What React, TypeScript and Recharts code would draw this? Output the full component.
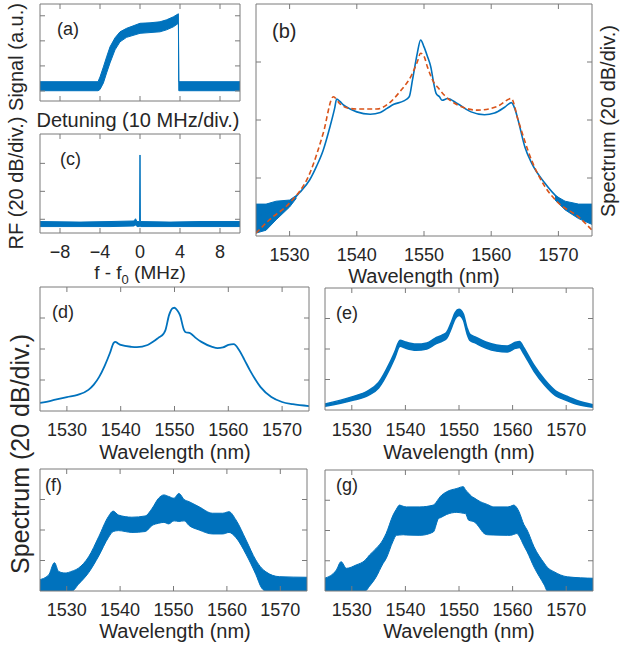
import React from 'react';
import { ComposedChart, Line, Area, XAxis, YAxis } from 'recharts';

const W = 621;
const H = 645;
const BLUE = '#0072BD';
const ORANGE = '#D95319';
const AXIS = '#7a7a7a';
const TEXT = '#262626';
const FONT = '"Liberation Sans", Arial, Helvetica, sans-serif';

// ---------- (a) Signal vs detuning (arbitrary units, 10 MHz/div) ----------
const aX = [0, 2.9, 3.0, 3.17, 3.33, 3.5, 3.75, 4.0, 4.33, 5.0, 5.5, 6.0, 6.33, 6.67, 6.92, 6.94, 10];
const aLow = [0.01, 0.01, 0.06, 0.32, 0.72, 1.12, 1.64, 1.96, 2.14, 2.3, 2.33, 2.36, 2.44, 2.56, 2.7, 0.01, 0.01];
const aHigh = [0.37, 0.37, 0.56, 0.96, 1.36, 1.76, 2.12, 2.36, 2.5, 2.7, 2.72, 2.76, 2.84, 2.96, 3.08, 0.37, 0.37];
const aTicksX = [1, 3, 5, 7, 9];
const aTicksY = [0, 1, 2, 3];

// ---------- (c) RF spectrum ----------
const cX = [-10, -6, -3, -0.6, -0.45, -0.3, -0.04, 0, 0.04, 3, 6, 10];
const cLow = [-0.26, -0.26, -0.26, -0.24, -0.2, -0.26, -0.26, -0.26, -0.26, -0.26, -0.26, -0.26];
const cHigh = [-0.08, -0.1, -0.08, -0.06, 0.02, -0.08, -0.08, 2.3, -0.08, -0.1, -0.08, -0.08];
const cTicksX = [-8, -4, 0, 4, 8];
const cTicksY = [0, 1, 2];

// ---------- wavelength axes ----------
const wlTicks = [1530, 1540, 1550, 1560, 1570];
const divTicks = [1, 2, 3];

// ---------- (b) measured (blue) and simulated (orange dashed) ----------
const bX = [1525, 1527, 1529, 1530, 1531.5, 1533, 1534, 1535, 1536, 1536.7, 1537, 1537.5, 1538, 1539, 1540, 1542, 1543.5, 1544.5, 1545.5, 1547, 1547.8, 1548.3, 1549, 1549.5, 1550, 1550.5, 1551, 1551.5, 1551.8, 1552.3, 1552.7, 1553.5, 1555, 1557, 1559, 1560.5, 1562, 1563, 1563.5, 1564, 1565, 1566, 1568, 1570, 1572, 1575];
const bY = [0.33, 0.42, 0.52, 0.57, 0.75, 0.97, 1.2, 1.48, 1.88, 2.2, 2.36, 2.32, 2.26, 2.19, 2.14, 2.1, 2.13, 2.2, 2.27, 2.33, 2.4, 2.7, 3.15, 3.38, 3.26, 3.1, 2.92, 2.6, 2.46, 2.4, 2.34, 2.37, 2.28, 2.14, 2.09, 2.12, 2.22, 2.3, 2.2, 2.0, 1.54, 1.26, 0.91, 0.65, 0.5, 0.36];
const bNoiseLX = [1525, 1526.5, 1528, 1530, 1531];
const bNoiseLLow = [0.05, 0.1, 0.28, 0.5, 0.65];
const bNoiseLHigh = [0.55, 0.55, 0.6, 0.62, 0.7];
const bNoiseRX = [1569.5, 1571, 1573, 1575];
const bNoiseRLow = [0.62, 0.45, 0.3, 0.2];
const bNoiseRHigh = [0.7, 0.6, 0.55, 0.55];
const bSimX = [1525, 1527, 1530, 1533, 1535, 1536.5, 1537.5, 1538.5, 1540, 1543, 1545, 1546.5, 1547, 1548, 1549, 1549.5, 1550, 1550.5, 1551.5, 1552, 1553, 1555, 1558, 1561, 1563, 1564, 1566, 1568, 1570, 1573, 1575];
const bSimY = [0.05, 0.28, 0.57, 1.08, 1.77, 2.4, 2.28, 2.21, 2.19, 2.19, 2.31, 2.5, 2.57, 2.74, 3.0, 3.15, 3.1, 2.92, 2.64, 2.57, 2.43, 2.26, 2.17, 2.24, 2.37, 2.0, 1.31, 0.85, 0.57, 0.33, 0.1];

// ---------- (d) ----------
const dX = [1525, 1527, 1530, 1532, 1534, 1535, 1536, 1537, 1538, 1538.7, 1539, 1539.5, 1540, 1542, 1543, 1545, 1546, 1547, 1548, 1548.3, 1549, 1549.7, 1550, 1550.5, 1551, 1551.8, 1552, 1553, 1554, 1555, 1557, 1558, 1559, 1560, 1561, 1562, 1563, 1564, 1566, 1568, 1570, 1572, 1575];
const dY = [0.26, 0.33, 0.45, 0.52, 0.68, 0.85, 1.1, 1.45, 1.87, 2.2, 2.23, 2.18, 2.13, 2.07, 2.06, 2.13, 2.23, 2.36, 2.5, 2.6, 3.1, 3.32, 3.33, 3.25, 3.1, 2.6, 2.55, 2.5, 2.35, 2.23, 2.07, 2.03, 2.05, 2.13, 2.16, 1.97, 1.65, 1.32, 0.77, 0.45, 0.29, 0.22, 0.16];

// ---------- (e) ----------
const eX = [1525, 1530, 1533, 1535, 1537, 1538, 1539, 1540, 1542, 1544, 1545.5, 1547, 1547.7, 1548.5, 1549.3, 1550, 1550.8, 1551.5, 1552, 1553, 1555, 1557, 1559, 1560.5, 1561.3, 1562, 1564, 1566, 1568, 1570, 1572, 1575];
const eLow = [0.12, 0.31, 0.47, 0.72, 1.32, 1.7, 2.09, 2.03, 1.96, 2.0, 2.15, 2.27, 2.35, 2.65, 3.0, 3.1, 2.95, 2.5, 2.29, 2.2, 2.03, 1.93, 1.9, 2.02, 2.05, 1.87, 1.27, 0.81, 0.47, 0.32, 0.19, 0.09];
const eHigh = [0.2, 0.43, 0.63, 0.9, 1.52, 1.9, 2.29, 2.23, 2.16, 2.2, 2.35, 2.47, 2.55, 2.85, 3.2, 3.3, 3.15, 2.7, 2.49, 2.4, 2.23, 2.13, 2.1, 2.22, 2.25, 2.07, 1.47, 0.99, 0.63, 0.46, 0.31, 0.17];

// ---------- (f) ----------
const fX = [1524.7, 1526.6, 1527.7, 1528.5, 1529.7, 1531, 1532.2, 1534.1, 1536, 1537.8, 1538.7, 1539.7, 1542.2, 1544.7, 1546, 1547.2, 1548.2, 1549.1, 1550.1, 1551, 1552, 1552.9, 1554.8, 1557.3, 1559.2, 1560.4, 1561.7, 1563.6, 1565.4, 1566.5, 1567.3, 1569.8, 1575];
const fLow = [0, 0, 0, 0, 0, 0, 0.22, 0.6, 1.15, 1.75, 1.95, 1.98, 1.92, 1.95, 2.15, 2.22, 2.25, 2.2, 2.3, 2.28, 2.3, 2.15, 2.0, 1.87, 1.87, 1.92, 1.75, 1.2, 0.55, 0.1, 0, 0, 0];
const fHigh = [0.36, 0.52, 0.93, 0.64, 0.59, 0.65, 0.75, 1.12, 1.78, 2.44, 2.62, 2.49, 2.42, 2.46, 2.71, 3.04, 3.15, 3.1, 3.04, 3.2, 3.0, 2.93, 2.76, 2.55, 2.55, 2.6, 2.33, 1.67, 1.02, 0.75, 0.63, 0.47, 0.45];

// ---------- (g) ----------
const gX = [1524.9, 1527.1, 1528, 1529, 1530.8, 1532.5, 1533.3, 1534.5, 1535.8, 1536.4, 1537.7, 1538.3, 1538.9, 1539.6, 1540.2, 1542.7, 1545.2, 1546.2, 1546.5, 1547.7, 1549.6, 1550.8, 1551.2, 1551.8, 1552.4, 1552.8, 1554, 1554.4, 1555.3, 1556.5, 1559, 1559.6, 1560.2, 1560.8, 1561.2, 1562.1, 1562.7, 1564, 1565.9, 1566.5, 1567.7, 1570.2, 1575.2];
const gLow = [0, 0, 0, 0, 0, 0, 0.16, 0.45, 0.9, 1.07, 1.65, 1.84, 1.85, 1.86, 1.85, 1.84, 1.95, 2.4, 2.42, 2.53, 2.6, 2.57, 2.56, 2.34, 2.31, 2.29, 2.05, 1.95, 1.86, 1.85, 1.84, 1.84, 1.87, 1.9, 1.82, 1.5, 1.3, 0.79, 0.2, 0, 0, 0, 0];
const gHigh = [0.42, 0.69, 0.97, 0.75, 0.86, 1.02, 1.19, 1.4, 1.69, 1.9, 2.51, 2.7, 2.84, 2.8, 2.78, 2.78, 2.84, 3.05, 3.12, 3.28, 3.39, 3.45, 3.35, 3.23, 3.12, 3.08, 2.95, 2.92, 2.86, 2.78, 2.78, 2.8, 2.84, 2.75, 2.62, 2.2, 2.02, 1.46, 0.92, 0.78, 0.64, 0.47, 0.42];

const line = (xs: number[], ys: number[]) => xs.map((x, i) => ({ x, y: ys[i] }));
const band = (xs: number[], lo: number[], hi: number[]) => xs.map((x, i) => ({ x, r: [lo[i], hi[i]] }));

type Box = { l: number; t: number; r: number; b: number };

const minusFmt = (v: number) => (v < 0 ? '\u2212' + Math.abs(v) : String(v));

function Panel(props: {
  box: Box;
  xDomain: [number, number];
  xTicks: number[];
  yDomain: [number, number];
  yTicks: number[];
  labelY?: number;
  labelSize?: number;
  fmt?: (v: number) => string;
  children: React.ReactNode;
}) {
  const { box, xDomain, xTicks, yDomain, yTicks, labelY, labelSize, fmt, children } = props;
  // each axis occupies 1px so that it is drawn; the plot area stays equal to the box
  const margin = { left: box.l - 1, top: box.t - 1, right: W - box.r - 1, bottom: H - box.b - 1 };
  const xTick = (p: any) => (
    <g>
      <line x1={p.x} x2={p.x} y1={box.b} y2={box.b - 5} stroke={AXIS} strokeWidth={1} />
      <line x1={p.x} x2={p.x} y1={box.t} y2={box.t + 5} stroke={AXIS} strokeWidth={1} />
      {labelY !== undefined ? (
        <text x={p.x} y={labelY} textAnchor="middle" fontSize={labelSize || 18} fill={TEXT} fontFamily={FONT}>
          {fmt ? fmt(p.payload.value) : String(p.payload.value)}
        </text>
      ) : null}
    </g>
  );
  const yTick = (p: any) => (
    <g>
      <line x1={box.l} x2={box.l + 5} y1={p.y} y2={p.y} stroke={AXIS} strokeWidth={1} />
      <line x1={box.r} x2={box.r - 5} y1={p.y} y2={p.y} stroke={AXIS} strokeWidth={1} />
    </g>
  );
  return (
    <div style={{ position: 'absolute', left: 0, top: 0, width: W, height: H }}>
      <ComposedChart width={W} height={H} margin={margin}>
        <XAxis xAxisId="b" type="number" dataKey="x" domain={xDomain} ticks={xTicks} allowDataOverflow interval={0}
          orientation="bottom" height={1} tickSize={0} tickMargin={0} tickLine={false}
          axisLine={{ stroke: AXIS, strokeWidth: 1 }} tick={xTick} />
        <XAxis xAxisId="t" type="number" dataKey="x" domain={xDomain} allowDataOverflow orientation="top" height={1}
          tick={false} tickLine={false} axisLine={{ stroke: AXIS, strokeWidth: 1 }} />
        <YAxis yAxisId="l" type="number" domain={yDomain} ticks={yTicks} allowDataOverflow interval={0}
          orientation="left" width={1} tickSize={0} tickMargin={0} tickLine={false}
          axisLine={{ stroke: AXIS, strokeWidth: 1 }} tick={yTick} />
        <YAxis yAxisId="r" type="number" domain={yDomain} allowDataOverflow orientation="right" width={1}
          tick={false} tickLine={false} axisLine={{ stroke: AXIS, strokeWidth: 1 }} />
        {children}
      </ComposedChart>
    </div>
  );
}

const bandArea = (data: any[], key: string, sw = 1, curve: 'linear' | 'monotone' = 'linear') => (
  <Area key={key} xAxisId="b" yAxisId="l" data={data} dataKey="r" type={curve} stroke={BLUE} strokeWidth={sw}
    fill={BLUE} fillOpacity={1} isAnimationActive={false} dot={false} activeDot={false} />
);

const wlDomain: [number, number] = [1525, 1575];
const divDomain: [number, number] = [0, 4];

export default function App() {
  const txt = { fill: TEXT, fontFamily: FONT } as const;
  return (
    <div style={{ position: 'absolute', left: 0, top: 0, width: W, height: H, background: '#fff', overflow: 'hidden' }}>
      {/* (a) */}
      <Panel box={{ l: 40, t: 4, r: 240, b: 101 }} xDomain={[0, 10]} xTicks={aTicksX} yDomain={[-0.4, 3.47]} yTicks={aTicksY}>
        {bandArea(band(aX, aLow, aHigh), 'a')}
      </Panel>
      {/* (c) */}
      <Panel box={{ l: 40, t: 134, r: 240, b: 233 }} xDomain={[-10, 10]} xTicks={cTicksX} yDomain={[-0.49, 3.05]} yTicks={cTicksY}
        labelY={258} labelSize={18} fmt={minusFmt}>
        {bandArea(band(cX, cLow, cHigh), 'c')}
      </Panel>
      {/* (b) */}
      <Panel box={{ l: 256, t: 4, r: 592, b: 236 }} xDomain={wlDomain} xTicks={wlTicks} yDomain={divDomain} yTicks={divTicks}
        labelY={261} labelSize={18}>
        {bandArea(band(bNoiseLX, bNoiseLLow, bNoiseLHigh), 'bl')}
        {bandArea(band(bNoiseRX, bNoiseRLow, bNoiseRHigh), 'br')}
        <Line xAxisId="b" yAxisId="l" data={line(bX, bY)} dataKey="y" type="monotone" stroke={BLUE} strokeWidth={1.6}
          dot={false} activeDot={false} isAnimationActive={false} />
        <Line xAxisId="b" yAxisId="l" data={line(bSimX, bSimY)} dataKey="y" type="monotone" stroke={ORANGE} strokeWidth={1.6}
          strokeDasharray="5 3" dot={false} activeDot={false} isAnimationActive={false} />
      </Panel>
      {/* (d) */}
      <Panel box={{ l: 40, t: 287, r: 309, b: 411 }} xDomain={wlDomain} xTicks={wlTicks} yDomain={divDomain} yTicks={divTicks}
        labelY={436} labelSize={18}>
        <Line xAxisId="b" yAxisId="l" data={line(dX, dY)} dataKey="y" type="monotone" stroke={BLUE} strokeWidth={1.8}
          dot={false} activeDot={false} isAnimationActive={false} />
      </Panel>
      {/* (e) */}
      <Panel box={{ l: 325, t: 288, r: 593, b: 410 }} xDomain={wlDomain} xTicks={wlTicks} yDomain={divDomain} yTicks={divTicks}
        labelY={436} labelSize={18}>
        {bandArea(band(eX, eLow, eHigh), 'e', 1.5, 'monotone')}
      </Panel>
      {/* (f) */}
      <Panel box={{ l: 40, t: 469, r: 307, b: 591 }} xDomain={wlDomain} xTicks={wlTicks} yDomain={divDomain} yTicks={divTicks}
        labelY={616} labelSize={18}>
        {bandArea(band(fX, fLow, fHigh), 'f', 1, 'monotone')}
      </Panel>
      {/* (g) */}
      <Panel box={{ l: 325, t: 470, r: 593, b: 591 }} xDomain={wlDomain} xTicks={wlTicks} yDomain={divDomain} yTicks={divTicks}
        labelY={616} labelSize={18}>
        {bandArea(band(gX, gLow, gHigh), 'g', 1, 'monotone')}
      </Panel>

      <svg width={W} height={H} style={{ position: 'absolute', left: 0, top: 0, pointerEvents: 'none' }}>
        {/* panel letters */}
        <text x={57} y={35} fontSize={18} {...txt}>(a)</text>
        <text x={272} y={38} fontSize={20} {...txt}>(b)</text>
        <text x={60} y={165} fontSize={18} {...txt}>(c)</text>
        <text x={52} y={318} fontSize={18} {...txt}>(d)</text>
        <text x={336} y={319} fontSize={18} {...txt}>(e)</text>
        <text x={45} y={491} fontSize={18} {...txt}>(f)</text>
        <text x={336} y={491} fontSize={18} {...txt}>(g)</text>

        {/* axis titles */}
        <text x={138} y={127} fontSize={20} textAnchor="middle" {...txt}>Detuning (10 MHz/div.)</text>
        <text x={140} y={279} fontSize={19} textAnchor="middle" {...txt}>
          f - f<tspan fontSize={13} dy={5}>0</tspan><tspan dy={-5}> (MHz)</tspan>
        </text>
        <text x={424} y={283} fontSize={20} textAnchor="middle" {...txt}>Wavelength (nm)</text>
        <text x={175} y={459} fontSize={20} textAnchor="middle" {...txt}>Wavelength (nm)</text>
        <text x={459} y={459} fontSize={20} textAnchor="middle" {...txt}>Wavelength (nm)</text>
        <text x={175} y={638} fontSize={20} textAnchor="middle" {...txt}>Wavelength (nm)</text>
        <text x={459} y={638} fontSize={20} textAnchor="middle" {...txt}>Wavelength (nm)</text>

        <text transform="translate(23,57) rotate(-90)" fontSize={20} textAnchor="middle" {...txt}>Signal (a.u.)</text>
        <text transform="translate(23,183) rotate(-90)" fontSize={20} textAnchor="middle" {...txt}>RF (20 dB/div.)</text>
        <text transform="translate(29,454) rotate(-90)" fontSize={25} textAnchor="middle" {...txt}>Spectrum (20 dB/div.)</text>
        <text transform="translate(615,121) rotate(-90)" fontSize={20} textAnchor="middle" {...txt}>Spectrum (20 dB/div.)</text>
      </svg>
    </div>
  );
}
